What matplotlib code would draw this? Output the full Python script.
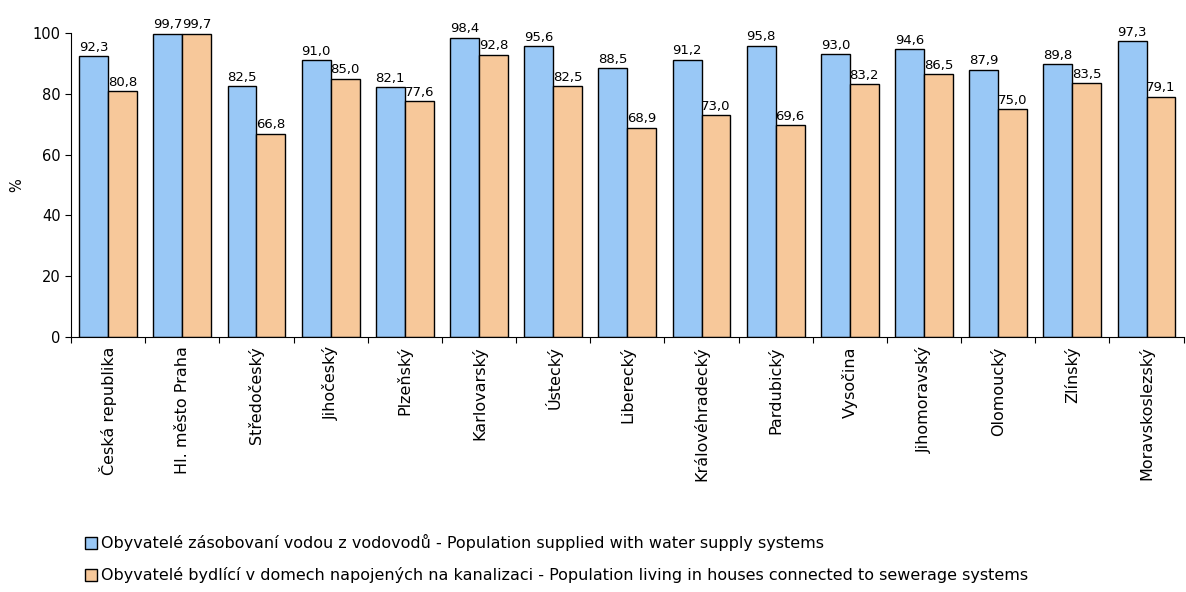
import matplotlib.pyplot as plt
import numpy as np

regions = ["Česká republika", "Hl. město Praha", "Středočeský", "Jihočeský", "Plzeňský",
           "Karlovarský", "Ústecký", "Liberecký", "Královéhradecký", "Pardubický",
           "Vysočina", "Jihomoravský", "Olomoucký", "Zlínský", "Moravskoslezský"]
water = [92.3, 99.7, 82.5, 91.0, 82.1, 98.4, 95.6, 88.5, 91.2, 95.8, 93.0, 94.6, 87.9, 89.8, 97.3]
sewer = [80.8, 99.7, 66.8, 85.0, 77.6, 92.8, 82.5, 68.9, 73.0, 69.6, 83.2, 86.5, 75.0, 83.5, 79.1]
series_names = [
    "Obyvatelé zásobovaní vodou z vodovodů - Population supplied with water supply systems",
    "Obyvatelé bydlící v domech napojených na kanalizaci - Population living in houses connected to sewerage systems",
]

plt.rcParams["font.family"] = ["DejaVu Sans"]

fig = plt.figure(figsize=(11.86, 5.92), dpi=100)
ax = fig.add_axes([0.0599, 0.4307, 0.9381, 0.5136])

x = np.arange(len(regions))
w = 0.39
b1 = ax.bar(x - w / 2, water, w, color="#99C8F6", edgecolor="black", linewidth=1.0,
            label=series_names[0])
b2 = ax.bar(x + w / 2, sewer, w, color="#F7C89A", edgecolor="black", linewidth=1.0,
            label=series_names[1])

for bars in (b1, b2):
    for r in bars:
        h = r.get_height()
        ax.text(r.get_x() + r.get_width() / 2, h + 0.8, f"{h:.1f}".replace(".", ","),
                ha="center", va="bottom", fontsize=9.5)

ax.set_xlim(-0.5, len(regions) - 0.5)
ax.set_ylim(0, 100)
ax.set_yticks(range(0, 101, 20))
ax.tick_params(axis="y", labelsize=10.5, length=4, direction="out")
ax.set_xticks(list(x - 0.5) + [len(regions) - 0.5])
ax.set_xticklabels([])
ax.tick_params(axis="x", length=4, direction="out")
for xi, name in zip(x, regions):
    ax.text(xi, -3, name, rotation=90, ha="center", va="top", fontsize=11.5,
            clip_on=False)
ax.spines["top"].set_visible(False)
ax.spines["right"].set_visible(False)
ax.set_ylabel("%", fontsize=10.5, labelpad=6)

fig.legend(loc="upper left", bbox_to_anchor=(0.066, 0.108), frameon=False,
           fontsize=11.5, handlelength=0.75, handleheight=0.75, handletextpad=0.3,
           labelspacing=1.0, borderaxespad=0)

fig.savefig("out.png", dpi=100)
